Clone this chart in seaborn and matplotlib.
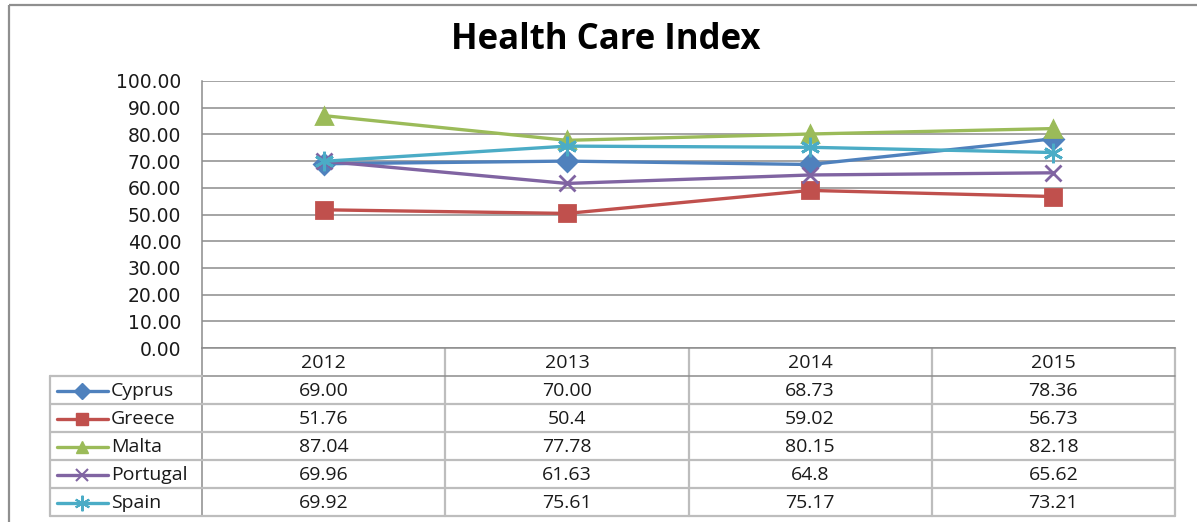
import pandas as pd
import matplotlib
matplotlib.use("Agg")
import matplotlib.pyplot as plt
import seaborn as sns
from matplotlib.patches import Rectangle

years = ["2012", "2013", "2014", "2015"]
countries = ["Cyprus", "Greece", "Malta", "Portugal", "Spain"]
# values exactly as printed in the data table
cyprus = ["69.00", "70.00", "68.73", "78.36"]
greece = ["51.76", "50.4", "59.02", "56.73"]
malta = ["87.04", "77.78", "80.15", "82.18"]
portugal = ["69.96", "61.63", "64.8", "65.62"]
spain = ["69.92", "75.61", "75.17", "73.21"]
y_ticks = [0, 10, 20, 30, 40, 50, 60, 70, 80, 90, 100]

series = dict(zip(countries, [cyprus, greece, malta, portugal, spain]))
colors = {"Cyprus": "#4F81BD", "Greece": "#C0504D", "Malta": "#9BBB59",
          "Portugal": "#8064A2", "Spain": "#4BACC6"}
markers = {"Cyprus": "D", "Greece": "s", "Malta": "^", "Portugal": "x", "Spain": (6, 2, 0)}
msizes = {"Cyprus": 10, "Greece": 11, "Malta": 11, "Portugal": 11, "Spain": 14}

rows = []
for c in countries:
    for i, v in enumerate(series[c]):
        rows.append({"Country": c, "pos": i, "Year": years[i], "Value": float(v)})
df = pd.DataFrame(rows)

W, H = 1197, 522
sns.set_style("white")
plt.rcParams["font.family"] = ["DejaVu Sans"]

fig = plt.figure(figsize=(W / 100, H / 100), dpi=100)
fig.patch.set_facecolor("white")

# plot area in pixels
L, R, T, B = 202, 1175, 81, 348
ax = fig.add_axes([L / W, 1 - B / H, (R - L) / W, (B - T) / H])

for c in countries:
    sub = df[df["Country"] == c]
    sns.lineplot(data=sub, x="pos", y="Value", color=colors[c], marker=markers[c],
                 markersize=msizes[c], markeredgecolor=colors[c], markeredgewidth=2,
                 linewidth=2.4, ax=ax, legend=False, zorder=3)

ax.set_xlim(-0.5, len(years) - 0.5)
ax.set_ylim(0, 100)
ax.set_yticks(y_ticks)
ax.set_yticklabels([f"{t:.2f}" for t in y_ticks], fontsize=13.5, color="#1a1a1a")
ax.set_xticks([])
ax.set_xlabel("")
ax.set_ylabel("")
ax.tick_params(axis="y", length=0, pad=15)
ax.grid(axis="y", color="#8c8c8c", linewidth=1.1)
ax.set_axisbelow(True)
for s in ["top", "right"]:
    ax.spines[s].set_visible(False)
ax.spines["left"].set_color("#8c8c8c")
ax.spines["bottom"].set_color("#8c8c8c")
ax.spines["left"].set_linewidth(1.1)
ax.spines["bottom"].set_linewidth(1.1)

# overlay in pixel coords for title, table and frame
ov = fig.add_axes([0, 0, 1, 1], zorder=-1)
ov.set_xlim(0, W)
ov.set_ylim(H, 0)
ov.axis("off")
ov.patch.set_alpha(0)

ov.add_patch(Rectangle((8.5, 4.5), W, H, fill=False, edgecolor="#8f8f8f", linewidth=1.6))
ov.text(606, 40, "Health Care Index", ha="center", va="center", fontsize=25,
        fontweight="bold", family=["Open Sans", "DejaVu Sans"], color="black")

grid_c = "#bdbdbd"
col_w = (R - L) / len(years)
row_h = 28
hdr_top, hdr_bot = B, B + row_h
tbl_bot = hdr_bot + row_h * len(countries)
leg_left = 50

# vertical lines
ov.plot([L, L], [hdr_top, tbl_bot], color="#8c8c8c", lw=1.1)
for j in range(1, len(years) + 1):
    x = L + j * col_w
    ov.plot([x, x], [hdr_top, tbl_bot], color=grid_c, lw=1.6)
ov.plot([leg_left, leg_left], [hdr_bot, tbl_bot], color=grid_c, lw=1.6)
# horizontal lines
ov.plot([L, R], [hdr_bot, hdr_bot], color="#8c8c8c", lw=1.1)
for i in range(1, len(countries) + 1):
    y = hdr_bot + i * row_h
    ov.plot([leg_left, R], [y, y], color=grid_c, lw=1.6)
ov.plot([leg_left, L], [hdr_bot, hdr_bot], color=grid_c, lw=1.6)

tfont = dict(fontsize=14, family=["Open Sans", "DejaVu Sans"], color="#1a1a1a")
for j, yr in enumerate(years):
    ov.text(L + (j + 0.5) * col_w, (hdr_top + hdr_bot) / 2 + 1, yr, ha="center", va="center", **tfont)
for i, c in enumerate(countries):
    yc = hdr_bot + (i + 0.5) * row_h + 1
    ov.plot([57, 108], [yc, yc], color=colors[c], lw=2.4)
    ov.plot([82], [yc], marker=markers[c], color=colors[c], markersize=msizes[c] * 0.8,
            markeredgecolor=colors[c], markeredgewidth=1.5 if c in ("Portugal", "Spain") else 1)
    ov.text(111, yc, c, ha="left", va="center", **tfont)
    for j, v in enumerate(series[c]):
        ov.text(L + (j + 0.5) * col_w, yc, v, ha="center", va="center", **tfont)

fig.savefig("out.png", dpi=100)
